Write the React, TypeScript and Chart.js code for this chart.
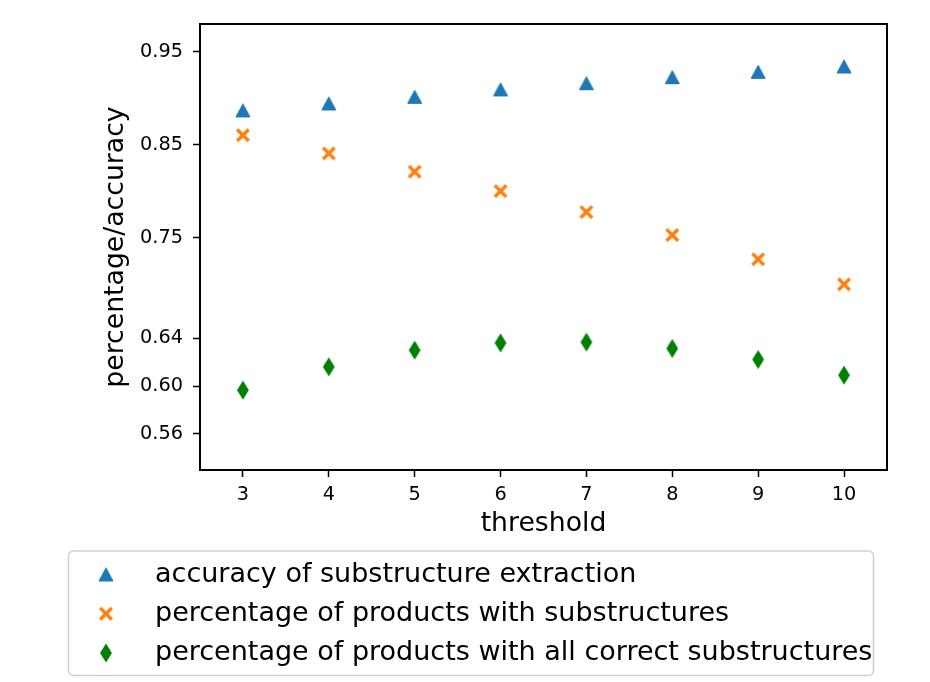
import { useEffect, useRef } from 'react';
import { Chart, registerables } from 'chart.js';

Chart.register(...registerables);

// ---- data ----
const thresholds = [3, 4, 5, 6, 7, 8, 9, 10];
const accuracyOfExtraction = [0.887, 0.8945, 0.9016, 0.9096, 0.9163, 0.9228, 0.9285, 0.9343];
const pctWithSubstructures = [0.8604, 0.8407, 0.821, 0.8002, 0.7776, 0.7529, 0.7268, 0.6998];
const pctAllCorrect = [0.5966, 0.6162, 0.6302, 0.6363, 0.6369, 0.6316, 0.6224, 0.6092];
const upperTicks = [0.75, 0.85, 0.95];
const upperTickLabels = ['0.75', '0.85', '0.95'];
const lowerTicks = [0.56, 0.6, 0.64];
const lowerTickLabels = ['0.56', '0.60', '0.64'];
const seriesLabels = [
  'accuracy of substructure extraction',
  'percentage of products with substructures',
  'percentage of products with all correct substructures',
];
const xTitle = 'threshold';
const yTitle = 'percentage/accuracy';

// ---- scale ranges ----
const Y_MIN = 0.5;
const Y_MAX = 0.98;
const Y2_MIN = 0.5296;
const Y2_MAX = 0.904;

const FONT = "'DejaVu Sans', sans-serif";

function makeMarker(kind: string, color: string): HTMLCanvasElement {
  const c = document.createElement('canvas');
  c.width = 24;
  c.height = 24;
  const g = c.getContext('2d')!;
  g.translate(12, 12);
  g.fillStyle = color;
  g.strokeStyle = color;
  if (kind === 'tri') {
    g.beginPath();
    g.moveTo(0, -6.5);
    g.lineTo(-7, 6.5);
    g.lineTo(7, 6.5);
    g.closePath();
    g.fill();
    g.lineWidth = 1;
    g.lineJoin = 'round';
    g.stroke();
  } else if (kind === 'x') {
    g.lineWidth = 3.4;
    g.lineCap = 'butt';
    g.beginPath();
    g.moveTo(-5.8, -5.8);
    g.lineTo(5.8, 5.8);
    g.moveTo(-5.8, 5.8);
    g.lineTo(5.8, -5.8);
    g.stroke();
  } else {
    g.beginPath();
    g.moveTo(0, -9.6);
    g.lineTo(5.9, 0);
    g.lineTo(0, 9.6);
    g.lineTo(-5.9, 0);
    g.closePath();
    g.fill();
  }
  return c;
}

export default function App() {
  const ref = useRef<HTMLCanvasElement | null>(null);

  useEffect(() => {
    const canvas = ref.current;
    if (!canvas) return;
    const markers = [
      makeMarker('tri', '#1f77b4'),
      makeMarker('x', '#ff7f0e'),
      makeMarker('dia', '#008000'),
    ];

    const toUpper = (v: number) =>
      Y_MIN + ((v - Y2_MIN) / (Y2_MAX - Y2_MIN)) * (Y_MAX - Y_MIN);

    const frame = {
      id: 'frame',
      afterDatasetsDraw(chart: any) {
        const { ctx, chartArea: a } = chart;
        ctx.save();
        ctx.strokeStyle = '#000';
        ctx.lineWidth = 2;
        ctx.strokeRect(a.left, a.top, a.right - a.left, a.bottom - a.top);
        ctx.restore();
      },
    };

    const legendBox = {
      id: 'legendBox',
      afterDraw(chart: any) {
        const ctx = chart.ctx;
        ctx.save();
        const x0 = 68.5, y0 = 551, x1 = 873.5, y1 = 675.5, r = 5;
        ctx.beginPath();
        ctx.moveTo(x0 + r, y0);
        ctx.lineTo(x1 - r, y0);
        ctx.arcTo(x1, y0, x1, y0 + r, r);
        ctx.lineTo(x1, y1 - r);
        ctx.arcTo(x1, y1, x1 - r, y1, r);
        ctx.lineTo(x0 + r, y1);
        ctx.arcTo(x0, y1, x0, y1 - r, r);
        ctx.lineTo(x0, y0 + r);
        ctx.arcTo(x0, y0, x0 + r, y0, r);
        ctx.closePath();
        ctx.fillStyle = 'rgba(255,255,255,0.8)';
        ctx.fill();
        ctx.strokeStyle = '#d0d0d0';
        ctx.lineWidth = 1.5;
        ctx.stroke();
        ctx.font = `27px ${FONT}`;
        ctx.fillStyle = '#000';
        ctx.textBaseline = 'alphabetic';
        ctx.textAlign = 'left';
        const baselines = [581.7, 620.9, 660.2];
        chart.data.datasets.forEach((ds: any, i: number) => {
          const m = markers[i];
          const cy = baselines[i] - 7.2;
          ctx.drawImage(m, 106 - m.width / 2, cy - m.height / 2);
          ctx.fillText(ds.label, 155, baselines[i]);
        });
        ctx.restore();
      },
    };

    const chart = new Chart(canvas, {
      type: 'scatter',
      data: {
        datasets: [
          {
            label: seriesLabels[0],
            data: thresholds.map((x, i) => ({ x, y: accuracyOfExtraction[i] })),
            pointStyle: markers[0] as any,
            pointRadius: 8,
            yAxisID: 'y',
          },
          {
            label: seriesLabels[1],
            data: thresholds.map((x, i) => ({ x, y: pctWithSubstructures[i] })),
            pointStyle: markers[1] as any,
            pointRadius: 8,
            yAxisID: 'y',
          },
          {
            label: seriesLabels[2],
            data: thresholds.map((x, i) => ({ x, y: pctAllCorrect[i] })),
            pointStyle: markers[2] as any,
            pointRadius: 8,
            yAxisID: 'y2',
          },
        ],
      },
      options: {
        responsive: false,
        animation: false,
        layout: { padding: { left: 0, right: 43, top: 24, bottom: 142 } },
        plugins: {
          legend: { display: false },
          tooltip: { enabled: false },
        },
        scales: {
          x: {
            type: 'linear',
            min: 2.5,
            max: 10.5,
            afterBuildTicks(scale: any) {
              scale.ticks = thresholds.map((v) => ({ value: v }));
            },
            afterFit(scale: any) {
              scale.height = 70;
            },
            grid: {
              display: true,
              drawOnChartArea: false,
              drawTicks: true,
              tickLength: 7,
              tickWidth: 1.5,
              tickColor: '#000',
            },
            border: { display: false },
            ticks: {
              color: '#000',
              font: { family: FONT, size: 19.3 },
              padding: 6,
              maxRotation: 0,
              autoSkip: false,
            },
            title: {
              display: true,
              text: xTitle,
              color: '#000',
              font: { family: FONT, size: 26.7 },
              padding: { top: 0, bottom: 0 },
            },
          },
          y: {
            type: 'linear',
            position: 'left',
            min: Y_MIN,
            max: Y_MAX,
            afterBuildTicks(scale: any) {
              const t: any[] = [];
              lowerTicks.forEach((v, i) => t.push({ value: toUpper(v), txt: lowerTickLabels[i] }));
              upperTicks.forEach((v, i) => t.push({ value: v, txt: upperTickLabels[i] }));
              scale.ticks = t;
            },
            afterFit(scale: any) {
              scale.width = 200;
            },
            grid: {
              display: true,
              drawOnChartArea: false,
              drawTicks: true,
              tickLength: 7,
              tickWidth: 1.5,
              tickColor: '#000',
            },
            border: { display: false },
            ticks: {
              color: '#000',
              font: { family: FONT, size: 19.3 },
              padding: 10,
              autoSkip: false,
              callback: (_v: any, i: number, ticks: any[]) => ticks[i].txt,
            },
            title: {
              display: true,
              text: yTitle,
              color: '#000',
              font: { family: FONT, size: 26.7 },
              padding: { top: 100, bottom: 0 },
            },
          },
          y2: {
            type: 'linear',
            display: false,
            min: Y2_MIN,
            max: Y2_MAX,
          },
        },
      },
      plugins: [frame, legendBox],
    } as any);

    return () => chart.destroy();
  }, []);

  return (
    <div style={{ position: 'absolute', left: 0, top: 0, width: 930, height: 682, background: '#fff' }}>
      <canvas ref={ref} width={930} height={682} style={{ width: 930, height: 682, display: 'block' }} />
    </div>
  );
}
